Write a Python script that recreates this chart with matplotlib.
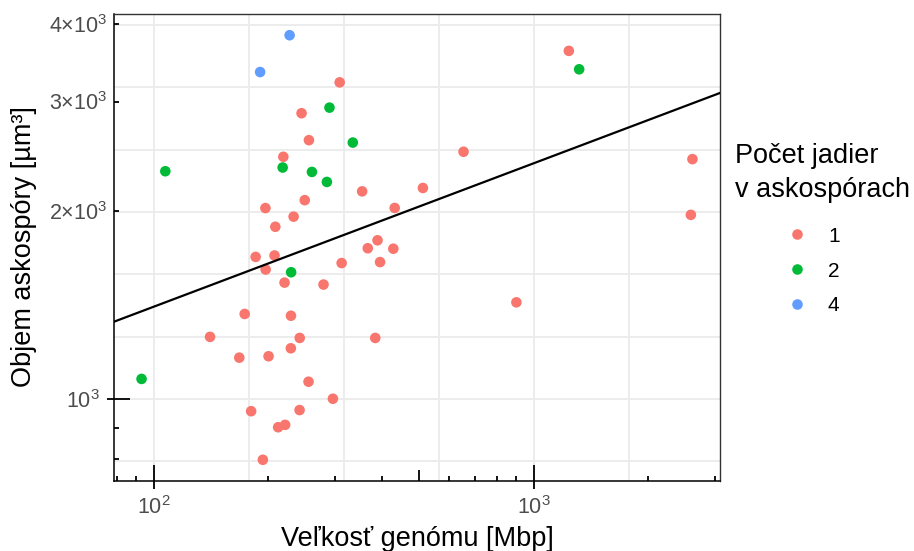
import numpy as np
import matplotlib
matplotlib.use("Agg")
import matplotlib.pyplot as plt
from matplotlib.lines import Line2D
from matplotlib.ticker import NullLocator

plt.rcParams['font.family'] = ['Liberation Sans', 'DejaVu Sans']
plt.rcParams['mathtext.fontset'] = 'custom'
plt.rcParams['mathtext.rm'] = 'Liberation Sans'
plt.rcParams['mathtext.it'] = 'Liberation Sans:italic'
plt.rcParams['mathtext.bf'] = 'Liberation Sans:bold'
plt.rcParams['mathtext.sf'] = 'Liberation Sans'

# genome size [Mbp], ascospore volume [um^3], nuclei per ascospore
genome_size = [227.9, 190.6, 308.7, 290.2, 245.0, 256.2, 334.3, 219.4, 107.3, 218.5,
               260.9, 285.7, 249.8, 196.8, 233.5, 209.0, 185.5, 208.0, 312.4, 197.1,
               230.0, 221.0, 279.9, 173.6, 229.8, 140.7, 242.3, 229.6, 168.0, 200.6,
               92.9, 255.6, 296.3, 180.5, 242.1, 212.6, 221.8, 193.8, 1238, 1318,
               654, 2619, 353.7, 511.2, 430.9, 2594, 388.3, 366.0, 427.3, 394.3,
               900.9, 383.0]
spore_volume = [3832, 3345, 3220, 2933, 2873, 2601, 2578, 2446, 2319, 2351,
                2313, 2229, 2084, 2024, 1961, 1889, 1690, 1699, 1652, 1613,
                1597, 1537, 1526, 1369, 1360, 1258, 1253, 1206, 1165, 1171,
                1077, 1066, 1001, 956, 960, 901, 909, 799, 3617, 3379,
                2492, 2425, 2153, 2180, 2025, 1974, 1797, 1745, 1742, 1658,
                1429, 1253]
nuclei = [4, 4, 1, 2, 1, 1, 2, 1, 2, 2,
          2, 2, 1, 1, 1, 1, 1, 1, 1, 1,
          2, 1, 1, 1, 1, 1, 1, 1, 1, 1,
          2, 1, 1, 1, 1, 1, 1, 1, 1, 2,
          1, 1, 1, 1, 1, 1, 1, 1, 1, 1,
          1, 1]

nuclei_levels = [1, 2, 4]
level_colors = ['#F8766D', '#00BA38', '#619CFF']

# regression in log-log space: log10(volume) = fit_intercept + fit_slope * log10(genome)
fit_intercept = 2.688
fit_slope = 0.230

x_ticks = [100, 1000]
x_ticklabels = [r'$10^{2}$', r'$10^{3}$']
y_ticks = [1000, 2000, 3000, 4000]
y_ticklabels = [r'$10^{3}$', r'$2{\times}10^{3}$', r'$3{\times}10^{3}$', r'$4{\times}10^{3}$']

W, H = 914, 551
fig = plt.figure(figsize=(W / 100, H / 100), dpi=100)
fig.patch.set_facecolor('white')
ax_l, ax_r, ax_t, ax_b = 114, 720, 14, 481
ax = fig.add_axes([ax_l / W, 1 - ax_b / H, (ax_r - ax_l) / W, (ax_b - ax_t) / H])
ax_w, ax_h = ax_r - ax_l, ax_b - ax_t
ax.set_xscale('log')
ax.set_yscale('log')

gx = np.log10(genome_size)
gy = np.log10(spore_volume)
ex = 0.05 * (gx.max() - gx.min())
ey = 0.05 * (gy.max() - gy.min())
xlim = (10 ** (gx.min() - ex), 10 ** (gx.max() + ex))
ylim = (10 ** (gy.min() - ey), 10 ** (gy.max() + ey))
ax.set_xlim(xlim)
ax.set_ylim(ylim)

# grid
for e in np.arange(1.5, 4.0, 0.25):
    if xlim[0] < 10 ** e < xlim[1]:
        ax.axvline(10 ** e, color='#EBEBEB', lw=1.3, zorder=0)
for e in np.arange(2.5, 4.0, 0.1):
    if ylim[0] < 10 ** e < ylim[1]:
        ax.axhline(10 ** e, color='#EBEBEB', lw=1.3, zorder=0)

genome_size = np.array(genome_size)
spore_volume = np.array(spore_volume)
nuclei = np.array(nuclei)
for lev, col in zip(nuclei_levels, level_colors):
    m = nuclei == lev
    ax.scatter(genome_size[m], spore_volume[m], s=58, color=col,
               edgecolors='none', zorder=3)

xs = np.array(xlim)
ax.plot(xs, 10 ** (fit_intercept + fit_slope * np.log10(xs)),
        color='black', lw=1.6, zorder=4)


def log_ticks(lo, hi):
    out = []
    for e in range(int(np.floor(np.log10(lo))), int(np.ceil(np.log10(hi))) + 1):
        for k in range(1, 10):
            v = k * 10 ** e
            if lo <= v <= hi:
                out.append((v, k))
    return out


tick_len = {1: 16, 5: 10.7}
for v, k in log_ticks(*xlim):
    L = tick_len.get(k, 5.3)
    o = 8 if k == 1 else 0
    ax.plot([v, v], [-o / ax_h, L / ax_h], transform=ax.get_xaxis_transform(),
            color='black', lw=1.3, clip_on=False, solid_capstyle='butt', zorder=5)
for v, k in log_ticks(*ylim):
    L = tick_len.get(k, 5.3)
    o = 7 if k == 1 else 0
    ax.plot([-o / ax_w, L / ax_w], [v, v], transform=ax.get_yaxis_transform(),
            color='black', lw=1.3, clip_on=False, solid_capstyle='butt', zorder=5)

ax.xaxis.set_minor_locator(NullLocator())
ax.yaxis.set_minor_locator(NullLocator())
ax.set_xticks(x_ticks, x_ticklabels)
ax.set_yticks(y_ticks, y_ticklabels)
ax.tick_params(axis='both', which='both', length=0, labelsize=15.5, labelcolor='#4D4D4D')
ax.tick_params(axis='x', pad=11)
ax.tick_params(axis='y', pad=4.5)
ax.yaxis.get_major_ticks()[0].set_pad(10.5)

for s in ax.spines.values():
    s.set_color('#333333')
    s.set_linewidth(1.0)
for s in ('left', 'bottom'):
    ax.spines[s].set_color('black')
    ax.spines[s].set_linewidth(1.1)

fig.text(417 / W, 1 - 539 / H, 'Veľkosť genómu [Mbp]', fontsize=19.5,
         ha='center', va='center')
fig.text(24 / W, 1 - 247 / H, 'Objem askospóry [µm³]', fontsize=19.5,
         ha='center', va='center', rotation=90)

# legend
fig.text(735 / W, 1 - 163 / H, 'Počet jadier', fontsize=19.5, ha='left', va='baseline')
fig.text(735 / W, 1 - 197 / H, 'v askospórach', fontsize=19.5, ha='left', va='baseline')
for i, (lev, col) in enumerate(zip(nuclei_levels, level_colors)):
    yc = 234.5 + 34.7 * i
    fig.add_artist(Line2D([797 / W], [1 - yc / H], marker='o', markersize=7.6,
                          color=col, markeredgecolor='none', linestyle='none',
                          transform=fig.transFigure))
    fig.text(828 / W, 1 - (yc + 7.5) / H, str(lev), fontsize=15,
             ha='left', va='baseline')

fig.savefig('out.png', dpi=100)
